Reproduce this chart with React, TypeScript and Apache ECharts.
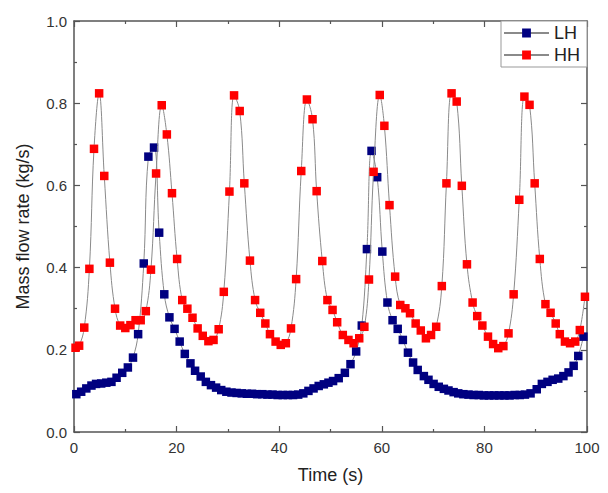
import React, { useEffect, useRef } from "react";
import * as echarts from "echarts";

const xTicks = [0, 20, 40, 60, 80, 100];
const yTicks = [0.0, 0.2, 0.4, 0.6, 0.8, 1.0];
const seriesNames = ["LH", "HH"];

const lhData: [number, number][] = [
  [0.45, 0.092], [1.4, 0.098], [2.4, 0.106], [3.4, 0.113], [4.3, 0.117],
  [5.3, 0.118], [6.3, 0.12], [7.3, 0.122], [8.3, 0.132], [9.4, 0.144],
  [10.5, 0.157], [11.5, 0.181], [12.5, 0.238], [13.6, 0.41], [14.5, 0.67],
  [15.6, 0.692], [16.6, 0.485], [17.6, 0.335], [18.6, 0.279], [19.6, 0.251],
  [20.6, 0.22], [21.6, 0.19], [22.7, 0.167], [23.6, 0.149], [24.7, 0.135],
  [25.7, 0.122], [26.7, 0.114], [27.7, 0.108], [28.7, 0.102], [29.7, 0.098],
  [30.7, 0.096], [31.7, 0.095], [32.7, 0.094], [33.7, 0.093], [34.7, 0.093],
  [35.7, 0.092], [36.7, 0.092], [37.7, 0.091], [38.7, 0.091], [39.7, 0.09],
  [40.7, 0.09], [41.7, 0.09], [42.7, 0.09], [43.7, 0.091], [44.7, 0.094],
  [45.7, 0.1], [46.7, 0.106], [47.7, 0.112], [48.7, 0.116], [49.6, 0.12],
  [50.5, 0.124], [51.6, 0.131], [52.8, 0.144], [53.9, 0.165], [55.0, 0.196],
  [56.1, 0.259], [57.1, 0.445], [58.0, 0.684], [59.1, 0.62], [60.1, 0.439],
  [61.1, 0.315], [62.1, 0.272], [63.1, 0.251], [64.1, 0.224], [65.1, 0.193],
  [66.1, 0.169], [67.0, 0.151], [68.2, 0.136], [69.1, 0.127], [70.1, 0.117],
  [71.1, 0.11], [72.1, 0.105], [73.0, 0.101], [74.0, 0.097], [74.9, 0.094],
  [75.9, 0.092], [76.9, 0.091], [77.9, 0.09], [78.9, 0.09], [79.9, 0.089],
  [80.9, 0.089], [81.9, 0.089], [82.9, 0.089], [83.9, 0.089], [84.9, 0.089],
  [85.9, 0.09], [86.9, 0.09], [87.9, 0.091], [89.0, 0.094], [90.2, 0.104],
  [91.2, 0.117], [92.3, 0.122], [93.3, 0.127], [94.4, 0.13], [95.4, 0.136],
  [96.4, 0.145], [97.4, 0.161], [98.3, 0.185], [99.3, 0.232],
];

const hhTime = [
  0.3, 1.0, 2.0, 3.0, 3.9, 4.9, 5.9, 7.0, 8.0, 9.0,
  10, 11, 12, 13, 14, 15, 16, 17.1, 18.1, 19.1,
  20.1, 21.1, 22.1, 23.1, 24.1, 25.1, 26.2, 27.2, 28.2, 29.2,
  30.3, 31.2, 32.3, 33.2, 34.3, 35.3, 36.3, 37.3, 38.2, 39.3,
  40.3, 41.3, 42.3, 43.3, 44.3, 45.4, 46.5, 47.3, 48.4, 49.4,
  50.4, 51.3, 52.4, 53.5, 54.5, 55.6, 56.6, 57.5, 58.4, 59.6,
  60.5, 61.5, 62.6, 63.6, 64.6, 65.5, 66.6, 67.6, 68.6, 69.6,
  70.6, 71.7, 72.6, 73.6, 74.6, 75.6, 76.6, 77.7, 78.6, 79.6,
  80.7, 81.7, 82.7, 83.7, 84.7, 85.7, 86.8, 87.8, 88.8, 89.8,
  90.8, 91.9, 92.9, 93.9, 94.7, 95.7, 96.7, 97.7, 98.6, 99.6,
];
const hhValue = [
  0.205, 0.21, 0.254, 0.397, 0.689, 0.824, 0.623, 0.412, 0.3, 0.259,
  0.253, 0.26, 0.272, 0.272, 0.294, 0.395, 0.629, 0.795, 0.724, 0.581,
  0.421, 0.321, 0.3, 0.278, 0.252, 0.234, 0.221, 0.224, 0.25, 0.341,
  0.585, 0.819, 0.781, 0.605, 0.417, 0.321, 0.29, 0.264, 0.238, 0.22,
  0.212, 0.216, 0.252, 0.372, 0.635, 0.809, 0.761, 0.586, 0.416, 0.321,
  0.297, 0.267, 0.236, 0.224, 0.216, 0.228, 0.256, 0.371, 0.633, 0.82,
  0.745, 0.552, 0.378, 0.309, 0.301, 0.289, 0.264, 0.247, 0.228, 0.236,
  0.256, 0.355, 0.605, 0.824, 0.804, 0.599, 0.408, 0.315, 0.282, 0.259,
  0.232, 0.214, 0.204, 0.209, 0.24, 0.335, 0.565, 0.816, 0.796, 0.605,
  0.421, 0.311, 0.29, 0.264, 0.238, 0.22, 0.216, 0.22, 0.248, 0.329,
];

const FONT = "'Liberation Sans', Arial, Helvetica, sans-serif";
const AXIS_COLOR = "#555";

export default function App() {
  const ref = useRef<HTMLDivElement>(null);
  useEffect(() => {
    if (!ref.current) return;
    const chart = echarts.init(ref.current, null, { renderer: "svg" });
    const hhData = hhTime.map((t, i) => [t, hhValue[i]]);
    const xMin = xTicks[0];
    const xMax = xTicks[xTicks.length - 1];
    const xInt = xTicks[1] - xTicks[0];
    const yMin = yTicks[0];
    const yMax = yTicks[yTicks.length - 1];
    const yInt = yTicks[1] - yTicks[0];
    const axisCommon = {
      axisLine: { show: true, onZero: false, lineStyle: { color: AXIS_COLOR, width: 1.5 } },
      axisTick: { show: true, inside: true, length: 6, lineStyle: { color: AXIS_COLOR, width: 1.2 } },
      minorTick: { show: true, splitNumber: 2, length: 3, lineStyle: { color: AXIS_COLOR, width: 1.2 } },
      splitLine: { show: false },
      minorSplitLine: { show: false },
    };
    chart.setOption({
      animation: false,
      backgroundColor: "#fff",
      textStyle: { fontFamily: FONT },
      grid: { left: 74, right: 21, top: 21, bottom: 61, containLabel: false, outerBoundsMode: "none" },
      legend: {
        data: seriesNames,
        orient: "vertical",
        right: 21,
        top: 21,
        itemWidth: 45,
        itemHeight: 11,
        itemGap: 4,
        padding: [3, 7, 3, 2],
        borderColor: "#999",
        borderWidth: 1,
        backgroundColor: "#fff",
        textStyle: { fontSize: 18, color: "#222", fontFamily: FONT },
      },
      xAxis: [
        {
          type: "value",
          min: xMin,
          max: xMax,
          interval: xInt,
          name: "Time (s)",
          nameLocation: "middle",
          nameGap: 34,
          nameTextStyle: { fontSize: 18, color: "#222", fontFamily: FONT },
          axisLabel: { margin: 8, fontSize: 15, color: "#333", fontFamily: FONT },
          ...axisCommon,
        },
        {
          type: "value",
          position: "top",
          min: xMin,
          max: xMax,
          interval: xInt,
          axisLabel: { show: false },
          ...axisCommon,
        },
      ],
      yAxis: [
        {
          type: "value",
          min: yMin,
          max: yMax,
          interval: yInt,
          name: "Mass flow rate (kg/s)",
          nameLocation: "middle",
          nameGap: 42,
          nameTextStyle: { fontSize: 18, color: "#222", fontFamily: FONT },
          axisLabel: {
            margin: 7,
            fontSize: 15,
            color: "#333",
            fontFamily: FONT,
            formatter: (v: number) => v.toFixed(1),
          },
          ...axisCommon,
        },
        {
          type: "value",
          position: "right",
          min: yMin,
          max: yMax,
          interval: yInt,
          axisLabel: { show: false },
          ...axisCommon,
        },
      ],
      series: [
        {
          name: seriesNames[0],
          type: "line",
          data: lhData,
          symbol: "rect",
          symbolSize: 8.5,
          smooth: 0.4,
          itemStyle: { color: "#000080" },
          lineStyle: { color: "#8a8a8a", width: 1 },
          z: 2,
        },
        {
          name: seriesNames[1],
          type: "line",
          data: hhData,
          symbol: "rect",
          symbolSize: 8.5,
          smooth: 0.4,
          itemStyle: { color: "#ff0000" },
          lineStyle: { color: "#8a8a8a", width: 1 },
          z: 3,
        },
      ],
    });
    return () => chart.dispose();
  }, []);
  return (
    <div
      ref={ref}
      style={{ position: "fixed", left: 0, top: 0, width: 608, height: 493, background: "#fff" }}
    />
  );
}
